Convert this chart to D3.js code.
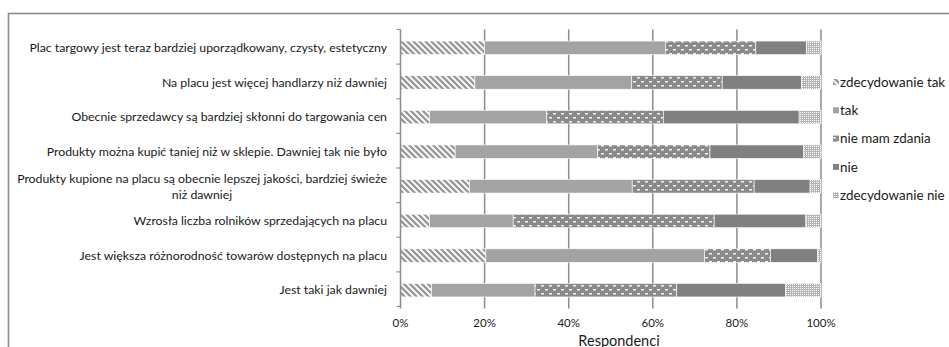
<!DOCTYPE html>
<html>
<head>
<meta charset="utf-8">
<script src="https://cdn.jsdelivr.net/npm/d3@7"></script>
<style>
  html, body { margin: 0; padding: 0; background: #fff; }
  svg { display: block; font-family: Lato, "Open Sans", sans-serif; }
</style>
</head>
<body>
<svg id="chart" width="949" height="347"></svg>
<script>
// Survey statements (top to bottom) and answer shares in percent
const categories = [
  "Plac targowy jest teraz bardziej uporządkowany, czysty, estetyczny",
  "Na placu jest więcej handlarzy niż dawniej",
  "Obecnie sprzedawcy są bardziej skłonni do targowania cen",
  "Produkty można kupić taniej niż w sklepie. Dawniej tak nie było",
  "Produkty kupione na placu są obecnie lepszej jakości, bardziej świeże|niż dawniej",
  "Wzrosła liczba rolników sprzedających na placu",
  "Jest większa różnorodność towarów dostępnych na placu",
  "Jest taki jak dawniej"
];
const seriesNames = ["zdecydowanie tak", "tak", "nie mam zdania", "nie", "zdecydowanie nie"];
const zdecydowanieTak = [20.0, 17.7, 6.9, 13.0, 16.4, 6.9, 20.3, 7.4];
const tak             = [43.0, 37.3, 27.9, 33.9, 38.7, 19.9, 52.0, 24.6];
const nieMamZdania    = [21.5, 21.5, 27.7, 26.7, 29.0, 47.8, 15.7, 33.7];
const nie             = [12.0, 18.9, 32.3, 22.2, 13.3, 21.8, 11.2, 25.9];
const zdecydowanieNie = [3.5, 4.6, 5.2, 4.2, 2.6, 3.6, 0.8, 8.4];
const xTicks = [0, 20, 40, 60, 80, 100];
const xTitle = "Respondenci";

const svg = d3.select("#chart");

// Fill patterns
const defs = svg.append("defs");
const p1 = defs.append("pattern").attr("id", "pStripe").attr("patternUnits", "userSpaceOnUse")
  .attr("width", 6).attr("height", 6);
p1.append("rect").attr("width", 6).attr("height", 6).attr("fill", "#fff");
p1.append("path").attr("d", "M-1,-1 L7,7 M-4,2 L2,8 M2,-4 L8,2")
  .attr("stroke", "#9a9a9a").attr("stroke-width", 2.4);

const p3 = defs.append("pattern").attr("id", "pDash").attr("patternUnits", "userSpaceOnUse")
  .attr("width", 8).attr("height", 8);
p3.append("rect").attr("width", 8).attr("height", 8).attr("fill", "#8a8a8a");
p3.append("rect").attr("x", 1).attr("y", 1).attr("width", 3).attr("height", 1.5).attr("fill", "#f2f2f2");
p3.append("rect").attr("x", 5).attr("y", 5).attr("width", 3).attr("height", 1.5).attr("fill", "#f2f2f2");

const p5 = defs.append("pattern").attr("id", "pCheck").attr("patternUnits", "userSpaceOnUse")
  .attr("width", 2).attr("height", 2);
p5.append("rect").attr("width", 2).attr("height", 2).attr("fill", "#b4b4b4");
p5.append("rect").attr("width", 1).attr("height", 1).attr("fill", "#fff");

const fills = ["url(#pStripe)", "#a3a3a3", "url(#pDash)", "#808080", "url(#pCheck)"];

// Outer frame
svg.append("rect").attr("x", 8.5).attr("y", 13.5).attr("width", 960).attr("height", 360)
  .attr("fill", "none").attr("stroke", "#8c8c8c").attr("stroke-width", 1.6);

const x = d3.scaleLinear().domain([0, 100]).range([400.5, 821]);
const y = d3.scaleBand().domain(categories).range([29.5, 306.5])
  .paddingInner(0.61).paddingOuter(0.305);

// Vertical gridlines
svg.append("g").selectAll("line").data(xTicks.slice(1)).join("line")
  .attr("x1", d => x(d)).attr("x2", d => x(d))
  .attr("y1", 29.5).attr("y2", 308.5)
  .attr("stroke", "#8c8c8c").attr("stroke-width", 1.5);

// Stacked bars
const rows = categories.map((c, i) => ({
  cat: c,
  "zdecydowanie tak": zdecydowanieTak[i],
  "tak": tak[i],
  "nie mam zdania": nieMamZdania[i],
  "nie": nie[i],
  "zdecydowanie nie": zdecydowanieNie[i]
}));
const stacked = d3.stack().keys(seriesNames)(rows);
svg.append("g").selectAll("g").data(stacked).join("g")
  .attr("fill", (d, i) => fills[i])
  .selectAll("rect").data(d => d).join("rect")
  .attr("x", d => x(d[0]))
  .attr("width", d => x(d[1]) - x(d[0]))
  .attr("y", d => y(d.data.cat) + 1)
  .attr("height", y.bandwidth())
  .attr("stroke", "#fff").attr("stroke-width", 0.6);

// Category axis
const yAxis = svg.append("g").attr("transform", "translate(400.5,0)");
yAxis.append("line").attr("y1", 29.5).attr("y2", 308.5)
  .attr("stroke", "#8c8c8c").attr("stroke-width", 1.5);
const bounds = d3.range(categories.length + 1).map(i => 29.5 + i * y.step());
yAxis.selectAll(".tk").data(bounds).join("line").attr("class", "tk")
  .attr("x1", -4).attr("x2", 0).attr("y1", d => d).attr("y2", d => d)
  .attr("stroke", "#8c8c8c").attr("stroke-width", 1.2);

const labelSize = 12.3;
const labels = svg.append("g");
categories.forEach(c => {
  const lines = c.split("|");
  const cy = y(c) + 1 + y.bandwidth() / 2;
  const lh = 16;
  const t = labels.append("text").attr("font-size", labelSize).attr("fill", "#1a1a1a");
  if (lines.length === 1) {
    t.attr("x", 387).attr("y", cy).attr("dy", "0.35em").attr("text-anchor", "end").text(lines[0]);
  } else {
    // multi-line label: centred block, right edge aligned with the others
    t.attr("text-anchor", "middle");
    const widths = lines.map(l => {
      const s = labels.append("text").attr("font-size", labelSize).text(l);
      const w = s.node().getComputedTextLength(); s.remove(); return w;
    });
    const maxW = d3.max(widths);
    lines.forEach((l, k) => {
      t.append("tspan").attr("x", 387 - maxW / 2)
        .attr("y", cy + (k - (lines.length - 1) / 2) * lh).attr("dy", "0.35em").text(l);
    });
  }
});

// Value axis labels
svg.append("g").selectAll("text").data(xTicks).join("text")
  .attr("x", d => x(d)).attr("y", 323).attr("dy", "0.35em")
  .attr("text-anchor", "middle").attr("font-size", 11.5).attr("fill", "#1a1a1a")
  .text(d => d + "%");
svg.append("text").attr("x", 619).attr("y", 345.5)
  .attr("text-anchor", "middle").attr("font-size", 14.5).attr("fill", "#1a1a1a").text(xTitle);

// Legend
const legend = svg.append("g");
seriesNames.forEach((n, i) => {
  const ly = 82 + i * 28.3;
  legend.append("rect").attr("x", 833).attr("y", ly - 3).attr("width", 6).attr("height", 6)
    .attr("fill", fills[i]);
  legend.append("text").attr("x", 840).attr("y", ly).attr("dy", "0.35em")
    .attr("font-size", 13.4).attr("fill", "#1a1a1a").text(n);
});
</script>
</body>
</html>
